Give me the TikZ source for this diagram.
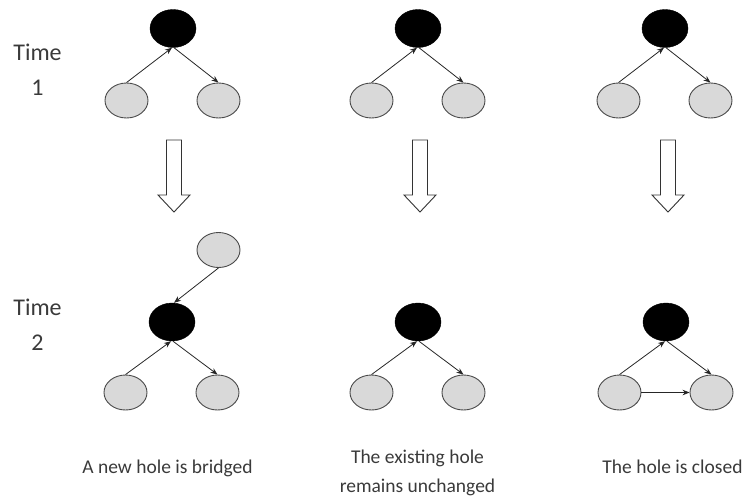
\documentclass[tikz,border=0pt]{standalone}
\usepackage{fontspec}
\setmainfont{Carlito}
\usetikzlibrary{shapes.geometric,arrows.meta}
\definecolor{nodegray}{HTML}{D9D9D9}
\definecolor{rimgray}{HTML}{4A4A4A}
\definecolor{textgray}{HTML}{3A3A3A}
\tikzset{
  hub/.style={ellipse, draw=black, fill=black, minimum width=46pt, minimum height=38pt, inner sep=0pt},
  leaf/.style={ellipse, draw=rimgray, line width=0.9pt, fill=nodegray, minimum width=43pt, minimum height=35pt, inner sep=0pt},
  tie/.style={draw=black!85, line width=0.8pt, -{Stealth[length=7pt,width=5.5pt]}},
  label/.style={font=\fontsize{19.5}{23}\selectfont, text=textgray, anchor=base, inner sep=0pt},
  timelabel/.style={font=\fontsize{24}{28}\selectfont, text=textgray, anchor=base, inner sep=0pt},
  hollow/.style={draw=black!80, line width=0.9pt, fill=white, line join=miter}
}
\newcommand{\hollowarrow}[1]{%
  \draw[hollow] (#1-7.5,140) -- (#1+7.5,140) -- (#1+7.5,195) -- (#1+16,195)
    -- (#1,212) -- (#1-16,195) -- (#1-7.5,195) -- cycle;}
\begin{document}
\begin{tikzpicture}[x=1pt,y=-1pt]
\useasboundingbox (0,0) rectangle (746,498);

% time labels
\node[timelabel] (t1a) at (37.5,60) {Time};
\node[timelabel] (t1b) at (37.5,95) {1};
\node[timelabel] (t2a) at (37.5,315) {Time};
\node[timelabel] (t2b) at (37.5,350) {2};

% time 1: three identical open triads
\foreach \n/\cx in {a/173,b/418,c/665}{
  \node[hub]  (h1\n) at (\cx,28.5) {};
  \node[leaf] (l1\n) at (\cx-46.5,100.5) {};
  \node[leaf] (r1\n) at (\cx+45.5,100.5) {};
  \draw[tie] (l1\n.north) -- ([xshift=-1pt]h1\n.south);
  \draw[tie] ([xshift=1pt]h1\n.south) -- (r1\n.north);
}

% transitions
\hollowarrow{174}
\hollowarrow{420}
\hollowarrow{668}

% time 2
\foreach \n/\cx in {a/172,b/418,c/666}{
  \node[hub]  (h2\n) at (\cx,322) {};
  \node[leaf] (l2\n) at (\cx-46.5,392.5) {};
  \node[leaf] (r2\n) at (\cx+45.5,392.5) {};
  \draw[tie] (l2\n.north) -- ([xshift=-1pt]h2\n.south);
  \draw[tie] ([xshift=1pt]h2\n.south) -- (r2\n.north);
}
% new contact bridging into the hub
\node[leaf] (xa) at (218.5,250) {};
\draw[tie] (xa.south) -- ([xshift=2pt]h2a.north);
% closing tie
\draw[tie] (l2c.east) -- (r2c.west);

% captions
\node[label] (ca) at (167.5,473) {A new hole is bridged};
\node[label] (cb1) at (417.5,463) {The existing hole};
\node[label] (cb2) at (417.5,492) {remains unchanged};
\node[label] (cc) at (672.5,473) {The hole is closed};
\end{tikzpicture}
\end{document}
